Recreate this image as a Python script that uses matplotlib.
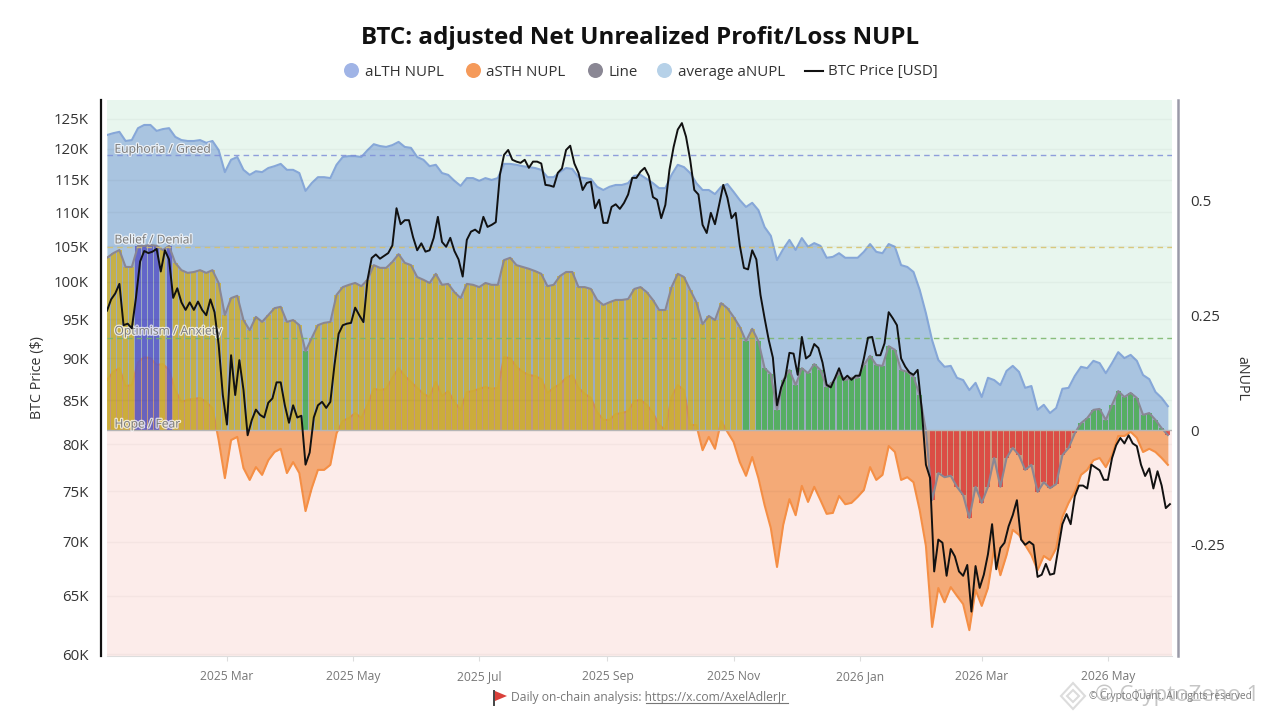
import datetime as dt
import numpy as np
import matplotlib
matplotlib.use("Agg")
import matplotlib.pyplot as plt
import matplotlib.dates as mdates
import matplotlib.patheffects as pe
from matplotlib.lines import Line2D
from matplotlib.patches import Polygon
from matplotlib.ticker import FixedLocator, NullLocator, FuncFormatter

plt.rcParams['font.family'] = ['Open Sans', 'DejaVu Sans']

START = dt.date(2025, 1, 2)
END = dt.date(2026, 6, 1)

# aLTH NUPL, sampled every 3 days from START
lth_nupl = [.644,.648,.651,.631,.633,.659,.666,.666,.653,.657,.659,.640,.633,.631,.631,.633,.627,.631,.611,.563,
.590,.596,.568,.557,.565,.563,.572,.576,.581,.568,.568,.561,.522,.539,.552,.552,.550,.579,.596,.598,
.598,.596,.611,.624,.620,.618,.622,.629,.618,.616,.596,.590,.576,.579,.561,.557,.544,.533,.550,.550,
.544,.550,.546,.550,.581,.581,.579,.576,.574,.572,.568,.552,.552,.563,.572,.570,.552,.550,.548,.531,
.524,.531,.535,.535,.539,.555,.557,.548,.539,.528,.528,.557,.579,.574,.561,.539,.524,.524,.515,.531,
.537,.520,.502,.487,.496,.480,.443,.424,.371,.395,.415,.393,.419,.400,.408,.402,.376,.378,.386,.376,
.376,.376,.389,.406,.389,.386,.406,.400,.360,.356,.345,.306,.255,.196,.153,.138,.140,.114,.109,.087,
.103,.072,.114,.109,.098,.129,.140,.127,.092,.096,.044,.055,.037,.048,.090,.092,.118,.138,.135,.151,
.146,.124,.146,.170,.157,.164,.151,.120,.111,.083,.070,.052]

# aSTH NUPL, sampled every 3 days from START
sth_nupl = [.109,.127,.135,.096,.098,.148,.159,.157,.142,.144,.131,.087,.061,.066,.068,.070,.061,.048,
-.022,-.105,-.022,-.015,-.083,-.109,-.081,-.098,-.066,-.048,-.041,-.094,-.070,-.094,-.177,-.127,-.087,-.087,-.076,-.007,
.020,.026,.037,.026,.055,.090,.087,.090,.114,.135,.118,.105,.092,.079,.072,.105,.074,.085,.061,.044,.083,.085,
.090,.094,.090,.092,.159,.157,.138,.127,.120,.118,.111,.081,.092,.100,.114,.120,.092,.079,.070,.039,
.022,.022,.035,.037,.041,.063,.066,.055,.037,.011,.000,.072,.098,.087,.011,.011,
-.044,-.015,-.041,.020,-.004,-.026,-.070,-.100,-.059,-.105,-.164,-.214,-.299,-.207,-.151,-.186,-.122,-.157,-.124,-.153,
-.183,-.181,-.144,-.162,-.159,-.146,-.131,-.081,-.109,-.098,-.035,-.048,-.109,-.103,-.114,-.175,-.253,-.430,-.345,-.376,
-.343,-.362,-.380,-.437,-.349,-.384,-.345,-.258,-.317,-.273,-.218,-.229,-.251,-.273,-.306,-.275,-.284,-.258,-.190,-.159,
-.135,-.098,-.087,-.066,-.061,-.081,-.055,-.013,-.013,-.004,-.017,-.048,-.041,-.048,-.061,-.076]

# average aNUPL ("Line"), sampled every 3 days from START
line_nupl = [.376,.386,.393,.356,.356,.402,.402,.404,.402,.393,.402,.365,.349,.343,.345,.349,.343,.349,.321,.251,
.288,.293,.240,.218,.247,.236,.251,.266,.269,.236,.240,.229,.172,.201,.229,.234,.236,.295,.312,.317,
.321,.314,.328,.360,.354,.354,.367,.384,.365,.360,.334,.328,.321,.341,.317,.319,.301,.288,.319,.317,
.312,.321,.317,.317,.371,.376,.360,.356,.352,.347,.341,.314,.317,.336,.345,.345,.312,.312,.308,.284,
.273,.279,.284,.284,.286,.308,.312,.301,.284,.262,.262,.312,.341,.334,.306,.279,.231,.249,.240,.277,
.266,.247,.225,.194,.221,.194,.135,.122,.044,.109,.131,.098,.135,.124,.144,.131,.094,.105,.124,.109,
.114,.114,.142,.162,.142,.140,.183,.175,.131,.127,.116,.076,-.002,-.153,-.094,-.103,-.100,-.124,-.142,-.192,
-.124,-.159,-.124,-.061,-.124,-.061,-.039,-.055,-.087,-.076,-.135,-.114,-.127,-.118,-.055,-.039,-.007,.015,.026,.044,
.046,.022,.055,.085,.072,.081,.070,.033,.037,.022,.004,-.011]

# BTC price in thousand USD, sampled every 2 days from START
btc_price = [96.1,97.6,98.4,99.7,94.2,94.4,93.8,97.8,102.8,104.3,104.0,104.2,104.6,101.4,104.4,103.1,97.8,99.1,97.2,96.2,
97.2,96.2,97.3,96.2,95.5,97.6,95.9,91.7,85.6,82.2,90.4,85.6,89.8,86.2,81.0,82.7,83.9,83.3,83.0,84.7,
85.2,87.1,87.1,84.4,82.4,84.4,83.0,83.2,77.8,79.1,83.0,84.4,84.8,84.1,84.8,89.2,93.1,94.2,94.4,94.5,
96.5,95.5,94.6,100.3,103.3,103.8,103.2,103.6,104.0,105.1,110.6,108.2,108.8,108.8,106.3,104.4,105.4,104.2,104.4,106.2,
109.3,105.6,104.9,106.2,104.3,103.1,100.7,105.9,107.1,107.4,106.9,109.3,107.8,108.1,108.5,115.8,119.0,119.8,118.2,117.9,
117.7,118.2,116.9,117.9,117.9,117.6,114.2,114.1,113.9,116.1,116.8,119.8,120.5,117.6,116.1,113.4,114.5,114.7,110.6,111.9,
108.4,108.4,110.8,111.2,110.5,111.4,112.7,115.3,115.3,116.3,116.9,115.6,112.3,111.9,109.1,111.1,116.6,120.3,123.2,124.3,
122.0,118.2,113.4,112.7,108.1,106.9,109.9,108.2,111.1,114.2,112.2,109.1,109.9,105.1,101.9,101.7,104.4,103.1,98.2,95.1,
92.3,90.1,84.4,86.5,87.7,90.7,90.6,88.0,92.7,90.0,90.4,91.8,91.3,89.5,86.8,86.5,87.6,88.8,87.4,87.9,
87.4,87.9,87.9,90.0,92.6,92.7,90.4,90.4,91.9,95.9,95.1,94.2,90.0,89.0,88.3,88.0,88.6,83.9,77.8,76.4,
67.2,70.2,69.9,66.8,69.3,68.6,67.2,66.8,67.8,63.6,67.7,65.7,66.9,68.8,71.7,67.4,69.4,69.9,71.5,72.6,
74.1,70.2,69.7,70.0,69.7,66.7,66.9,67.9,66.9,67.0,69.3,71.7,72.7,71.7,74.5,75.6,75.6,75.3,77.8,77.5,
77.2,76.2,76.2,78.5,79.9,80.7,80.1,81.0,80.1,79.8,77.8,76.6,77.4,75.3,77.1,75.6,73.3,73.7]

price_ticks = [60, 65, 70, 75, 80, 85, 90, 95, 100, 105, 110, 115, 120, 125]
nupl_ticks = [-0.25, 0, 0.25, 0.5]
nupl_tick_labels = ['-0.25', '0', '0.25', '0.5']
zone_levels = [0.6, 0.4, 0.2]
zone_colors = ['#7f8fd8', '#d9c36a', '#78b468']
zone_names = ['Euphoria / Greed', 'Belief / Denial', 'Optimism / Anxiety', 'Hope / Fear']
zone_text_y = [0.613, 0.415, 0.216, 0.013]
month_ticks = [dt.date(2025, 3, 1), dt.date(2025, 5, 1), dt.date(2025, 7, 1), dt.date(2025, 9, 1),
               dt.date(2025, 11, 1), dt.date(2026, 1, 1), dt.date(2026, 3, 1), dt.date(2026, 5, 1)]
month_labels = ['2025 Mar', '2025 May', '2025 Jul', '2025 Sep', '2025 Nov', '2026 Jan', '2026 Mar', '2026 May']

W, H = 1280, 720
def fx(x): return x / W
def fy(y): return 1 - y / H

def days(n, step):
    return mdates.date2num(START) + step * np.arange(n)

fig = plt.figure(figsize=(12.8, 7.2), dpi=100)
ax = fig.add_axes([fx(107), fy(656), (1172 - 107) / W, (656 - 100) / H])
ax.set_xlim(mdates.date2num(START), mdates.date2num(END))
ax.set_ylim(-0.4934, 0.7205)
ax.axhspan(0, 0.7205, color='#e8f6ee', lw=0, zorder=0)
ax.axhspan(-0.4934, 0, color='#fcecea', lw=0, zorder=0)

x_l, x_s, x_m = days(len(lth_nupl), 3), days(len(sth_nupl), 3), days(len(line_nupl), 3)
ax.fill_between(x_l, 0, lth_nupl, color='#a9c4e0', lw=0, zorder=1)
ax.plot(x_l, lth_nupl, color='#86a7d8', lw=1.5, zorder=1.5)
ax.fill_between(x_s, 0, sth_nupl, color='#f39a5a', alpha=0.8, lw=0, zorder=2, interpolate=True)
ax.plot(x_s, sth_nupl, color='#f58f45', lw=1.5, zorder=2.1)
ax.fill_between(x_m, 0, line_nupl, color='#8a8794', alpha=0.4, lw=0, zorder=2.5, interpolate=True)

def bar_color(v):
    if v >= zone_levels[1]:
        return '#5555cc'
    if v >= zone_levels[2]:
        return '#d0b22a'
    if v >= 0:
        return '#45b04c'
    return '#e03a36'

ax.bar(x_m, line_nupl, width=2.45, color=[bar_color(v) for v in line_nupl], alpha=0.8, lw=0, zorder=3)
ax.plot(x_m, line_nupl, color='#8a8794', lw=1.5, zorder=3.5)
ax.axhline(0, color='#b5b5b5', lw=1, zorder=3.6)
for lev, col in zip(zone_levels, zone_colors):
    ax.axhline(lev, color=col, lw=1.0, alpha=0.85, ls=(0, (4, 3)), zorder=3.7)
for name, yv in zip(zone_names, zone_text_y):
    ax.text(mdates.date2num(START) + 3.6, yv, name, fontsize=8.7, color='#7a7a7a', va='center', ha='left', zorder=6,
            path_effects=[pe.withStroke(linewidth=1.8, foreground='white', alpha=0.75)])

ax.xaxis.set_major_locator(FixedLocator(mdates.date2num(month_ticks)))
ax.set_xticklabels(month_labels, fontsize=8.7, color='#777777')
ax.tick_params(axis='x', length=3.6, color='#dddddd', width=0.8, pad=13.5)
for s in ['top', 'left']:
    ax.spines[s].set_visible(False)
ax.spines['bottom'].set_color('#dddddd')
ax.spines['right'].set_position(('outward', 4.3))
ax.spines['right'].set_color('#9a9aa8')
ax.spines['right'].set_linewidth(1.8)

ax2 = ax.twinx()
ax2.set_yscale('log')
ax2.set_ylim(59.84, 128.3)
ax2.plot(days(len(btc_price), 2), btc_price, color='#111111', lw=1.4, zorder=5)
for p in price_ticks:
    ax2.axhline(p, color='#000000', alpha=0.03, lw=1, zorder=4)
ax2.yaxis.tick_left()
ax2.yaxis.set_major_locator(FixedLocator(price_ticks))
ax2.yaxis.set_minor_locator(NullLocator())
ax2.yaxis.set_major_formatter(FuncFormatter(lambda v, _: f'{v:.0f}K'))
ax2.tick_params(axis='y', which='both', length=0, pad=8.6, labelsize=10.8, labelcolor='#333333')
for s in ['top', 'right', 'bottom']:
    ax2.spines[s].set_visible(False)
ax2.spines['left'].set_visible(True)
ax2.spines['left'].set_position(('outward', 4.3))
ax2.spines['left'].set_color('#111111')
ax2.spines['left'].set_linewidth(1.6)

# the twin axes moves the main axis' ticks to the left, so put them on the right here
ax.yaxis.tick_right()
ax.yaxis.set_major_locator(FixedLocator(nupl_ticks))
ax.set_yticklabels(nupl_tick_labels, fontsize=10.8, color='#333333')
ax.tick_params(axis='y', length=0, pad=8.6)
ax.spines['right'].set_visible(True)
ax.spines['left'].set_visible(False)

fig.text(fx(640), fy(38), 'BTC: adjusted Net Unrealized Profit/Loss NUPL', fontsize=17.4, fontweight='bold',
         color='#111111', ha='center', va='center')
fig.text(fx(38), fy(378), 'BTC Price ($)', fontsize=10.3, rotation=90, color='#333333', ha='center', va='center')
fig.text(fx(1242), fy(378), 'aNUPL', fontsize=10.3, rotation=270, color='#333333', ha='center', va='center')

# legend
legend_items = [(351, 365, '#a0b4e6', 'aLTH NUPL'), (473, 486, '#f59a5a', 'aSTH NUPL'),
                (595, 608, '#8a8794', 'Line'), (664, 678, '#b6d1e8', 'average aNUPL')]
for cx, tx, col, lab in legend_items:
    fig.add_artist(Line2D([fx(cx)], [fy(70)], marker='o', ms=10.8, mfc=col, mec='none', ls='', transform=fig.transFigure))
    fig.text(fx(tx), fy(72), lab, fontsize=10.8, color='#333333', ha='left', va='center')
fig.add_artist(Line2D([fx(805), fx(823)], [fy(71), fy(71)], color='#111111', lw=1.5, transform=fig.transFigure))
fig.text(fx(828), fy(72), 'BTC Price [USD]', fontsize=10.8, color='#333333', ha='left', va='center')

# footer
fig.text(fx(511), fy(697), 'Daily on-chain analysis: https://x.com/AxelAdlerJr', fontsize=8.7, color='#777777',
         ha='left', va='center')
fig.add_artist(Line2D([fx(646), fx(788)], [fy(703), fy(703)], color='#777777', lw=0.8, transform=fig.transFigure))
fig.add_artist(Line2D([fx(494), fx(494)], [fy(691), fy(705)], color='#444444', lw=1.4, transform=fig.transFigure))
fig.add_artist(Polygon([(fx(495), fy(691)), (fx(507), fy(696)), (fx(495), fy(701))], closed=True, fc='#d9403a', ec='none',
                       transform=fig.transFigure))

# watermark and copyright
for half_w, half_h in [(12, 13), (6, 6)]:
    fig.add_artist(Polygon([(fx(1073), fy(696 - half_h)), (fx(1073 + half_w), fy(696)), (fx(1073), fy(696 + half_h)),
                            (fx(1073 - half_w), fy(696))], closed=True, fc='none', ec='#dcdcdc', lw=1.5,
                           transform=fig.transFigure))
fig.text(fx(1095), fy(695), '© CryptoZeno 1', fontsize=16, color='#c6c6c6', ha='left', va='center')
fig.text(fx(1089), fy(697), '© CryptoQuant. All rights reserved', fontsize=7.3, color='#7a7a7a', ha='left', va='center')

fig.canvas.draw()
for lbl in ax.get_xticklabels():
    lbl.set_verticalalignment('baseline')

fig.savefig('out.png', dpi=100)
